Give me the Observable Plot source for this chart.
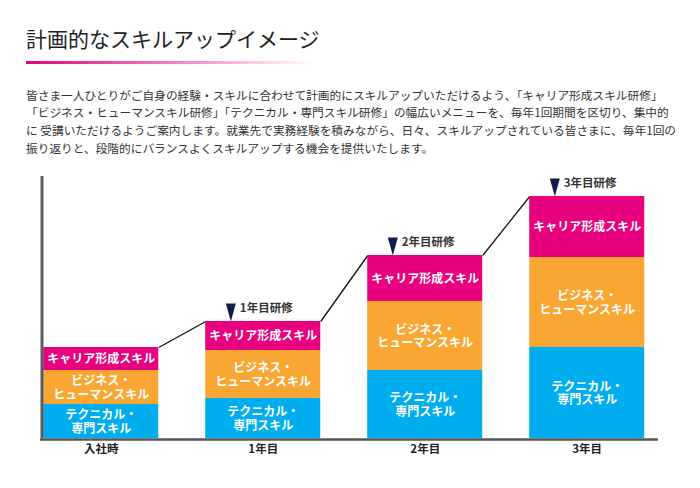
<!DOCTYPE html>
<html><head><meta charset="utf-8">
<script src="https://cdn.jsdelivr.net/npm/d3@7"></script>
<script src="https://cdn.jsdelivr.net/npm/@observablehq/plot@0.6"></script>
<style>
body{margin:0;background:#fff;font-family:"Noto Sans CJK JP",sans-serif;width:700px;height:488px;position:relative;overflow:hidden}
#title{position:absolute;left:26px;top:28px;font-size:21px;line-height:21px;color:#222;margin:0;font-weight:normal;white-space:nowrap}
#rule{position:absolute;left:26px;top:61px;width:290px;height:3px;background:linear-gradient(to right,#e5007f,rgba(229,0,127,0))}
#lead{position:absolute;left:26px;top:85.5px;font-size:11.7px;line-height:17.7px;color:#333;margin:0;white-space:nowrap}
#chart{position:absolute;left:0;top:166px}
</style></head><body>
<h1 id="title">計画的なスキルアップイメージ</h1>
<div id="rule"></div>
<p id="lead">皆さま一人ひとりがご自身の経験・スキルに合わせて計画的にスキルアップいただけるよう、「キャリア形成スキル研修」<br>「ビジネス・ヒューマンスキル研修」「テクニカル・専門スキル研修」の幅広いメニューを、毎年1回期間を区切り、集中的<br>に 受講いただけるようご案内します。就業先で実務経験を積みながら、日々、スキルアップされている皆さまに、毎年1回の<br>振り返りと、段階的にバランスよくスキルアップする機会を提供いたします。</p>
<div id="chart"></div>
<script>
const categories = ["入社時", "1年目", "2年目", "3年目"];
const technical = [34, 40, 68, 91];
const business = [34, 48, 69, 90];
const career = [23, 29, 46, 61];
const segmentKeys = ["technical", "business", "career"];
const segmentLabels = ["テクニカル・\n専門スキル", "ビジネス・\nヒューマンスキル", "キャリア形成スキル"];
const segmentColors = ["#00aeef", "#f9a633", "#e8007f"];
const trainingLabels = ["", "1年目研修", "2年目研修", "3年目研修"];

const series = [technical, business, career];
const rows = [];
const totals = [];
categories.forEach((c, i) => {
  let acc = 0;
  series.forEach((vals, s) => {
    rows.push({i, cat: c, seg: segmentKeys[s], label: segmentLabels[s], y1: acc, y2: acc + vals[i]});
    acc += vals[i];
  });
  totals.push({i, total: acc, label: trainingLabels[i]});
});
const links = totals.slice(0, -1).map((d, k) => ({from: d, to: totals[k + 1]}));
const trainings = totals.filter(d => d.label);

const half = 0.355;
const xMin = -0.375, xMax = 3.44, yMax = 262;
const tri = {draw(ctx) { ctx.moveTo(-5, -18); ctx.lineTo(5, -18); ctx.lineTo(0, 0); ctx.closePath(); }};

const chart = Plot.plot({
  width: 700, height: 300,
  marginTop: 10, marginBottom: 28, marginLeft: 40, marginRight: 42,
  style: {fontFamily: "'Noto Sans CJK JP', sans-serif", background: "white"},
  x: {domain: [xMin, xMax], axis: null},
  y: {domain: [0, yMax], axis: null},
  color: {domain: segmentKeys, range: segmentColors},
  marks: [
    Plot.link(links, {x1: d => d.from.i + half, y1: d => d.from.total, x2: d => d.to.i - half, y2: d => d.to.total, stroke: "#111", strokeWidth: 1.3}),
    Plot.rect(rows, {x1: d => d.i - half, x2: d => d.i + half, y1: "y1", y2: "y2", fill: "seg"}),
    Plot.text(rows, {x: "i", y: d => (d.y1 + d.y2) / 2, text: "label", fill: "white", fontWeight: "bold", fontSize: 12, lineHeight: 1.15}),
    Plot.ruleX([xMin], {y1: 0, y2: yMax, stroke: "#5b5b5b", strokeWidth: 3, dx: 1.5}),
    Plot.ruleY([0], {stroke: "#555", strokeWidth: 2.5, dy: 1}),
    Plot.dot(trainings, {x: d => d.i - 0.2, y: "total", symbol: tri, r: 5, fill: "#0f1d4a", stroke: null}),
    Plot.text(trainings, {x: d => d.i - 0.2, y: "total", text: "label", dx: 9, dy: -13, textAnchor: "start", fontWeight: "bold", fontSize: 11.5, fill: "#333"}),
    Plot.text(categories, {x: (d, i) => i, frameAnchor: "bottom", dy: 14, text: d => d, fontWeight: "bold", fontSize: 11.5, fill: "#222"})
  ]
});
document.getElementById("chart").appendChild(chart);
</script>
</body></html>
